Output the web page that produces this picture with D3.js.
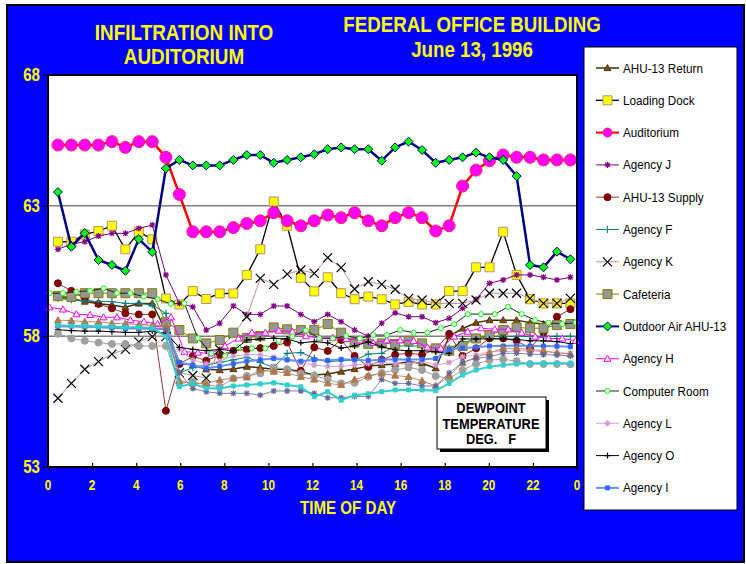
<!DOCTYPE html>
<html>
<head>
<meta charset="utf-8">
<script src="https://cdn.jsdelivr.net/npm/d3@7"></script>
<style>
  body { margin: 0; background: #fff; }
  text { font-family: "Liberation Sans Narrow", "Arial Narrow", "Liberation Sans", Arial, sans-serif; }
</style>
</head>
<body>
<script>
// sample times (hours) - most loggers
var hoursA = [0.45, 1.06, 1.67, 2.29, 2.90, 3.51, 4.12, 4.73, 5.35, 5.96, 6.57, 7.18, 7.79,
  8.41, 9.02, 9.63, 10.24, 10.85, 11.47, 12.08, 12.69, 13.30, 13.91, 14.53, 15.14, 15.75,
  16.36, 16.97, 17.59, 18.20, 18.81, 19.42, 20.03, 20.65, 21.26, 21.87, 22.48, 23.09, 23.70];
// loggers that started a little earlier
var hoursB = [0.07, 0.68, 1.29, 1.91, 2.52, 3.13, 3.74, 4.35, 4.97, 5.58, 6.19, 6.80, 7.41,
  8.03, 8.64, 9.25, 9.86, 10.47, 11.09, 11.70, 12.31, 12.92, 13.53, 14.15, 14.76, 15.37,
  15.98, 16.59, 17.21, 17.82, 18.43, 19.04, 19.65, 20.27, 20.88, 21.49, 22.10, 22.71, 23.33, 23.94];

var ahuReturn = [59.5, 59.45, 59.33, 59.25, 59.2, 59.11, 59.26, 59.26, 58.2, 56.97, 56.9, 56.74, 56.71,
  56.75, 56.84, 56.8, 56.74, 56.74, 56.65, 56.52, 56.56, 56.65, 56.75, 56.86, 56.9, 56.94,
  57.03, 56.97, 56.78, 58.0, 58.3, 58.52, 58.62, 58.62, 58.62, 58.52, 58.47, 58.47, 58.52];
var loadingDock = [61.62, 61.62, 61.9, 62.03, 62.23, 61.33, 62.0, 61.71, 59.45, 59.22, 59.73, 59.43, 59.64,
  59.64, 60.35, 61.33, 63.16, 62.23, 60.24, 59.72, 60.26, 59.65, 59.42, 59.52, 59.42, 59.22,
  59.32, 59.22, 59.22, 59.73, 59.73, 60.64, 60.64, 62.0, 60.35, 59.42, 59.26, 59.26, 59.26];
var auditorium = [65.32, 65.32, 65.32, 65.32, 65.45, 65.23, 65.45, 65.45, 64.85, 63.43, 62.0, 62.0, 62.0,
  62.16, 62.32, 62.42, 62.73, 62.42, 62.23, 62.42, 62.64, 62.54, 62.73, 62.42, 62.23, 62.54,
  62.73, 62.54, 62.03, 62.23, 63.75, 64.36, 64.72, 64.94, 64.85, 64.85, 64.75, 64.75, 64.75];
var agencyJ = [61.33, 61.53, 61.62, 61.84, 61.94, 61.94, 62.13, 62.26, 60.35, 59.26, 59.13, 58.24, 58.5,
  59.16, 58.84, 58.84, 59.16, 59.16, 58.84, 58.56, 58.84, 58.56, 58.24, 58.01, 58.5, 58.9,
  58.75, 58.75, 58.52, 58.69, 59.07, 59.42, 60.03, 60.16, 60.35, 60.35, 60.26, 60.16, 60.26];
var ahuSupply = [60.03, 59.74, 59.45, 59.24, 59.07, 58.88, 58.84, 58.84, 55.15, 56.94, 57.24, 57.07, 57.28,
  57.45, 57.5, 57.55, 57.63, 57.76, 56.68, 57.58, 57.44, 57.86, 57.25, 56.83, 57.1, 57.3,
  57.35, 57.3, 57.5, 58.1, 57.25, 57.54, 57.92, 57.92, 57.83, 57.54, 58.14, 58.75, 59.04];
var agencyF = [59.45, 59.4, 59.36, 59.33, 59.33, 59.26, 59.26, 59.2, 58.88, 56.6, 56.8, 56.9, 57.0,
  57.1, 57.2, 57.0, 56.81, 57.35, 57.38, 57.16, 57.03, 57.07, 57.09, 57.32, 57.35, 57.63,
  57.63, 57.63, 57.41, 57.55, 57.75, 57.9, 58.0, 58.0, 58.0, 58.0, 58.0, 58.0, 58.0];
var agencyK = [55.63, 56.2, 56.74, 57.03, 57.32, 57.5, 57.79, 57.99, 57.99, 56.6, 56.5, 56.4, 57.5,
  58.1, 58.75, 60.22, 59.99, 60.38, 60.54, 60.41, 61.01, 60.63, 59.81, 60.09, 59.99, 59.8,
  59.45, 59.39, 59.26, 59.26, 59.26, 59.39, 59.65, 59.65, 59.65, 59.45, 59.26, 59.26, 59.45];
var cafeteria = [59.54, 59.51, 59.65, 59.65, 59.65, 59.65, 59.65, 59.65, 58.54, 58.24, 57.92, 57.73, 57.86,
  58.14, 57.94, 58.01, 58.34, 58.27, 58.24, 58.24, 58.47, 58.14, 57.76, 57.71, 57.73, 57.71,
  57.83, 57.73, 57.54, 57.45, 57.63, 57.92, 58.05, 58.24, 58.34, 58.31, 58.31, 58.43, 58.47];
var outdoorAir = [63.52, 61.43, 61.95, 60.92, 60.73, 60.51, 61.72, 61.23, 64.43, 64.75, 64.54, 64.54, 64.54,
  64.75, 64.94, 64.94, 64.64, 64.75, 64.85, 64.97, 65.16, 65.23, 65.16, 65.16, 64.72, 65.23,
  65.45, 65.13, 64.64, 64.75, 64.85, 65.03, 64.85, 64.75, 64.13, 60.73, 60.64, 61.24, 60.95];
var agencyH = [59.11, 59.03, 58.85, 58.82, 58.73, 58.73, 58.62, 58.56, 58.47, 58.73, 57.41, 57.38, 57.35,
  57.63, 57.92, 58.14, 58.14, 58.22, 58.18, 58.01, 57.93, 57.95, 57.9, 57.85, 57.75, 57.85,
  57.85, 57.83, 57.58, 57.54, 57.99, 58.18, 58.31, 58.27, 58.27, 58.14, 57.99, 57.92, 57.92, 57.83];
var computerRoom = [59.65, 59.65, 59.71, 59.74, 59.84, 59.65, 59.65, 59.52, 59.42, 59.24, 59.26, 57.93, 57.35,
  57.25, 57.58, 57.54, 57.54, 57.83, 58.0, 58.22, 57.93, 57.92, 58.01, 57.92, 58.05, 58.05,
  58.24, 58.14, 58.14, 58.31, 58.47, 58.85, 58.85, 58.85, 59.13, 58.85, 58.62, 58.52, 58.47, 58.52];
var agencyL = [58.35, 58.35, 58.33, 58.33, 58.32, 58.3, 58.3, 58.3, 58.3, 57.5, 57.1, 56.95, 57.05,
  57.25, 57.3, 57.3, 57.2, 57.1, 57.0, 56.9, 56.85, 56.85, 56.9, 56.95, 57.0, 56.95,
  56.95, 57.05, 56.9, 57.0, 57.22, 57.28, 57.41, 57.41, 57.45, 57.45, 57.41, 57.37, 57.35];
var agencyO = [58.25, 58.22, 58.2, 58.2, 58.18, 58.15, 58.15, 58.2, 58.1, 57.58, 57.5, 57.45, 57.5,
  57.45, 57.86, 57.9, 57.93, 57.9, 57.75, 57.8, 57.75, 57.55, 57.63, 57.79, 57.6, 57.48,
  57.45, 57.45, 57.41, 57.35, 57.9, 57.9, 57.9, 57.9, 57.88, 57.83, 57.83, 57.8, 57.72];
var agencyI = [58.4, 58.4, 58.38, 58.35, 58.33, 58.3, 58.3, 58.28, 58.3, 57.0, 56.9, 56.78, 56.85,
  56.95, 57.05, 57.1, 57.15, 57.1, 57.05, 57.1, 57.08, 57.12, 57.1, 57.08, 57.1, 57.12,
  57.1, 57.12, 57.15, 57.5, 57.55, 57.58, 57.63, 57.63, 57.65, 57.63, 57.63, 57.62, 57.6];
// series beyond the legend's visible entries
var extraGray = [58.1, 57.92, 57.83, 57.76, 57.71, 57.71, 57.63, 57.63, 57.63, 56.2, 56.26, 56.14, 56.07,
  56.39, 56.48, 56.58, 56.81, 56.74, 56.58, 56.5, 56.35, 56.2, 56.22, 56.45, 56.6, 56.71,
  56.81, 56.71, 56.48, 56.39, 56.71, 56.94, 57.09, 57.12, 57.05, 56.94, 56.94, 56.94, 56.93];
var extraTan = [58.62, 58.6, 58.56, 58.55, 58.5, 58.48, 58.45, 58.42, 58.4, 56.3, 56.2, 56.2, 56.33,
  56.4, 56.43, 56.71, 56.65, 56.6, 56.45, 56.35, 56.2, 56.14, 56.35, 56.5, 56.58, 56.5,
  56.45, 56.3, 56.1, 56.48, 56.99, 57.2, 57.37, 57.54, 57.54, 57.5, 57.45, 57.37, 57.32];
var extraSlate = [58.4, 58.42, 58.4, 58.38, 58.35, 58.35, 58.3, 58.3, 58.25, 56.6, 56.0, 55.88, 55.82,
  55.82, 55.82, 55.75, 55.91, 55.91, 55.91, 55.82, 55.65, 55.65, 55.7, 55.7, 56.35, 56.2,
  56.2, 56.1, 56.1, 56.6, 57.0, 57.16, 57.22, 57.35, 57.35, 57.32, 57.3, 57.28, 57.25];
var extraCyan = [58.42, 58.4, 58.4, 58.38, 58.38, 58.35, 58.35, 58.32, 58.0, 56.07, 56.2, 56.01, 56.0,
  56.1, 56.14, 56.18, 56.22, 56.14, 56.07, 55.69, 55.88, 55.56, 55.75, 55.8, 55.88, 55.95,
  55.95, 55.95, 55.92, 56.2, 56.52, 56.71, 56.84, 56.9, 56.94, 56.97, 56.97, 56.97, 56.97];

var xTicks = [0, 2, 4, 6, 8, 10, 12, 14, 16, 18, 20, 22, 24];
var yTicks = [53, 58, 63, 68];
var gridValues = [58, 63];

var series = [
  { name: "AHU-13 Return", hours: hoursA, values: ahuReturn, line: "#3d3308", lw: 1.5, mark: "triangle", size: 7, fill: "#7a4a1a", stroke: "#5a3a10", legend: true },
  { name: "Loading Dock", hours: hoursA, values: loadingDock, line: "#000", lw: 1.3, mark: "square", size: 9, fill: "#ffff00", stroke: "#b8906a", legend: true },
  { name: "Auditorium", hours: hoursA, values: auditorium, line: "#ff0000", lw: 2.5, mark: "circle", size: 12, fill: "#ff00ff", stroke: "#ff2060", legend: true },
  { name: "Agency J", hours: hoursA, values: agencyJ, line: "#800080", lw: 1, mark: "star", size: 6, fill: "none", stroke: "#800080", legend: true },
  { name: "AHU-13 Supply", hours: hoursA, values: ahuSupply, line: "#993333", lw: 1, mark: "circle", size: 7, fill: "#800000", stroke: "#800000", legend: true },
  { name: "Agency F", hours: hoursA, values: agencyF, line: "#008080", lw: 1, mark: "plus", size: 7, fill: "none", stroke: "#008080", legend: true },
  { name: "Agency K", hours: hoursA, values: agencyK, line: "#c09090", lw: 1, mark: "x", size: 9, fill: "none", stroke: "#000", legend: true },
  { name: "Cafeteria", hours: hoursA, values: cafeteria, line: "#808000", lw: 1, mark: "square", size: 9, fill: "#969696", stroke: "#808000", legend: true },
  { name: "Outdoor Air AHU-13", hours: hoursA, values: outdoorAir, line: "#000080", lw: 2.5, mark: "diamond", size: 9, fill: "#00ff00", stroke: "#000080", legend: true },
  { name: "Agency H", hours: hoursB, values: agencyH, line: "#ff00ff", lw: 1, mark: "triangle", size: 7, fill: "#fff", stroke: "#ff00ff", legend: true },
  { name: "Computer Room", hours: hoursB, values: computerRoom, line: "#222", lw: 1, mark: "circle", size: 5, fill: "#fff", stroke: "#00ff00", legend: true },
  { name: "Agency L", hours: hoursA, values: agencyL, line: "#dda0dd", lw: 1, mark: "star", size: 6, fill: "none", stroke: "#cc99cc", legend: true },
  { name: "Agency O", hours: hoursA, values: agencyO, line: "#000", lw: 1, mark: "plus", size: 6, fill: "none", stroke: "#000", legend: true },
  { name: "Agency I", hours: hoursA, values: agencyI, line: "#6690ff", lw: 2, mark: "square", size: 4, fill: "#3366ff", stroke: "#3366ff", legend: true },
  { name: "extra 1", hours: hoursA, values: extraGray, line: "#a0a0a0", lw: 1, mark: "circle", size: 7, fill: "#a0a0a0", stroke: "#a0a0a0", legend: false },
  { name: "extra 2", hours: hoursA, values: extraTan, line: "#c08860", lw: 1, mark: "triangle", size: 7, fill: "#b07850", stroke: "#b07850", legend: false },
  { name: "extra 3", hours: hoursA, values: extraSlate, line: "#8080b0", lw: 1, mark: "star", size: 6, fill: "none", stroke: "#666699", legend: false },
  { name: "extra 4", hours: hoursA, values: extraCyan, line: "#33cccc", lw: 2, mark: "square", size: 4, fill: "#33cccc", stroke: "#33cccc", legend: false }
];

var width = 746, height = 564;
var plot = { left: 48, right: 577, top: 75, bottom: 467 };
var narrow = 0.84;   // no condensed font installed, so squeeze the bold labels

var svg = d3.select("body").append("svg")
    .attr("width", width)
    .attr("height", height);

// blue frame
svg.append("rect")
    .attr("x", 7).attr("y", 5)
    .attr("width", 737).attr("height", 557)
    .attr("fill", "#0000ff")
    .attr("stroke", "#000")
    .attr("stroke-width", 2);

var x = d3.scaleLinear().domain([0, 24]).range([plot.left, plot.right]);
var y = d3.scaleLinear().domain([53, 68]).range([plot.bottom, plot.top]);

// plot area
svg.append("rect")
    .attr("x", plot.left).attr("y", plot.top)
    .attr("width", plot.right - plot.left).attr("height", plot.bottom - plot.top)
    .attr("fill", "#fff");

svg.selectAll("line.grid")
  .data(gridValues)
  .enter().append("line")
    .attr("class", "grid")
    .attr("x1", plot.left).attr("x2", plot.right)
    .attr("y1", d => y(d)).attr("y2", d => y(d))
    .attr("stroke", "#808080")
    .attr("stroke-width", 1.5);

function markerPath(type, s) {
  var h = s / 2;
  switch (type) {
    case "square": return `M${-h},${-h}H${h}V${h}H${-h}Z`;
    case "diamond": return `M0,${-h}L${h},0L0,${h}L${-h},0Z`;
    case "triangle": return `M0,${-h}L${h},${h * 0.75}L${-h},${h * 0.75}Z`;
    case "circle": return `M${h},0A${h},${h} 0 1,1 ${-h},0A${h},${h} 0 1,1 ${h},0Z`;
    case "plus": return `M${-h},0H${h}M0,${-h}V${h}`;
    case "x": return `M${-h},${-h}L${h},${h}M${-h},${h}L${h},${-h}`;
    case "star":
      var k = h * 0.75;
      return `M${-h},0H${h}M0,${-h}V${h}M${-k},${-k}L${k},${k}M${-k},${k}L${k},${-k}`;
  }
}

function drawMarker(g, s, px, py) {
  var open = s.fill === "none";
  g.append("path")
    .attr("transform", `translate(${px},${py})`)
    .attr("d", markerPath(s.mark, s.size))
    .attr("fill", s.fill)
    .attr("stroke", s.stroke)
    .attr("stroke-width", open ? 1.2 : 1);
}

var line = d3.line()
    .x(d => x(d[0]))
    .y(d => y(d[1]));

var plotG = svg.append("g");

series.forEach(function(s) {
  var pts = s.values.map((v, i) => [s.hours[i], v]);
  var g = plotG.append("g");
  g.append("path")
    .datum(pts)
    .attr("fill", "none")
    .attr("stroke", s.line)
    .attr("stroke-width", s.lw)
    .attr("stroke-linejoin", "round")
    .attr("d", line);
  pts.forEach(p => drawMarker(g, s, x(p[0]), y(p[1])));
});

// plot border
svg.append("rect")
    .attr("x", plot.left).attr("y", plot.top)
    .attr("width", plot.right - plot.left).attr("height", plot.bottom - plot.top)
    .attr("fill", "none")
    .attr("stroke", "#000")
    .attr("stroke-width", 2);

// condensed yellow label
function label(tx, ty, str, size, anchor) {
  svg.append("text")
    .attr("transform", `translate(${tx},${ty}) scale(${narrow},1)`)
    .attr("text-anchor", anchor || "middle")
    .attr("fill", "#ffff00")
    .style("font-size", size + "px")
    .style("font-weight", "bold")
    .text(str);
}

// axes
var xAxis = svg.append("g")
    .attr("transform", `translate(0,${plot.bottom})`)
    .call(d3.axisBottom(x).tickValues(xTicks).tickFormat("").tickSize(4));
xAxis.select(".domain").remove();
xAxis.selectAll(".tick line").attr("y1", -4).attr("y2", 4).attr("stroke", "#000").attr("stroke-width", 1.2);
xTicks.forEach(d => label(x(d), plot.bottom + 23, d % 24, 14));

var yAxis = svg.append("g")
    .attr("transform", `translate(${plot.left},0)`)
    .call(d3.axisLeft(y).tickValues(yTicks).tickFormat("").tickSize(5));
yAxis.select(".domain").remove();
yAxis.selectAll(".tick line").attr("stroke", "#000").attr("stroke-width", 1.2);
yTicks.forEach(d => label(40, y(d) + 6, d, 18, "end"));

label(348, 514, "TIME OF DAY", 18);

// titles
label(184, 40, "INFILTRATION INTO", 22.5);
label(184, 64, "AUDITORIUM", 22.5);
label(472, 32, "FEDERAL OFFICE BUILDING", 22.3);
label(472, 57, "June 13, 1996", 22.3);

// dewpoint note
svg.append("rect")
    .attr("x", 440).attr("y", 400).attr("width", 109).attr("height", 52)
    .attr("fill", "#000");
svg.append("rect")
    .attr("x", 437).attr("y", 397).attr("width", 109).attr("height", 52)
    .attr("fill", "#fff").attr("stroke", "#000").attr("stroke-width", 1);
["DEWPOINT", "TEMPERATURE", "DEG.   F"].forEach(function(t, i) {
  svg.append("text")
    .attr("transform", `translate(491,${413 + i * 15.5}) scale(0.92,1)`)
    .attr("text-anchor", "middle")
    .attr("fill", "#000")
    .attr("xml:space", "preserve")
    .style("font-size", "14px")
    .style("font-weight", "bold")
    .style("white-space", "pre")
    .text(t);
});

// legend
var legendItems = series.filter(s => s.legend);
svg.append("rect")
    .attr("x", 584).attr("y", 47).attr("width", 153).attr("height", 463)
    .attr("fill", "#fff").attr("stroke", "#000").attr("stroke-width", 1);
var leg = svg.append("g");
legendItems.forEach(function(s, i) {
  var ly = 68 + i * 32.3;
  var g = leg.append("g");
  g.append("line")
    .attr("x1", 596).attr("x2", 619)
    .attr("y1", ly).attr("y2", ly)
    .attr("stroke", s.line)
    .attr("stroke-width", Math.min(s.lw, 2));
  drawMarker(g, Object.assign({}, s, { size: Math.min(s.size, 9) }), 607.5, ly);
  g.append("text")
    .attr("transform", `translate(623,${ly + 4.5}) scale(0.9,1)`)
    .attr("fill", "#000")
    .style("font-size", "13px")
    .text(s.name);
});
</script>
</body>
</html>
